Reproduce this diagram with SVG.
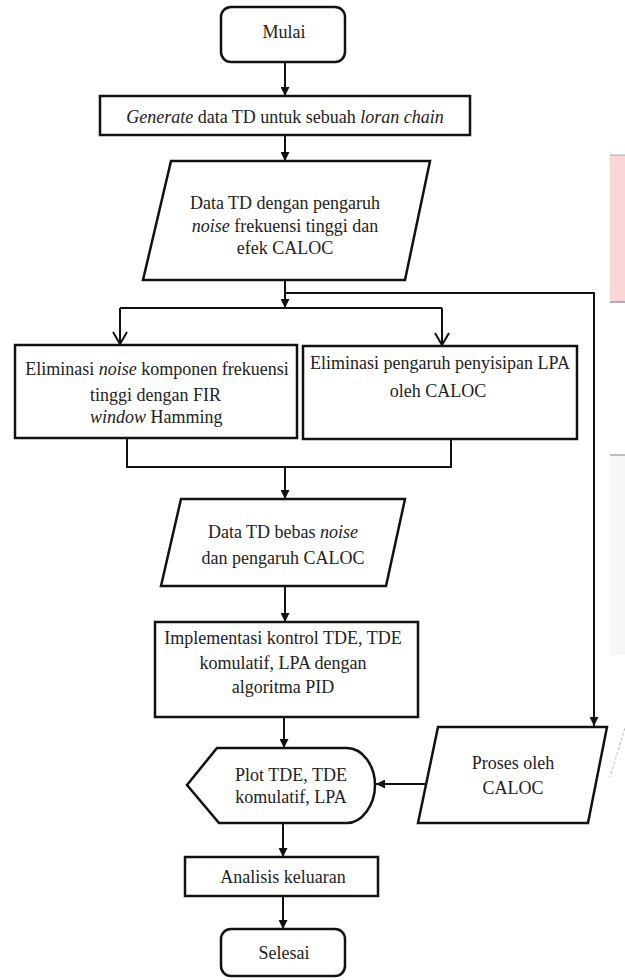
<svg xmlns="http://www.w3.org/2000/svg" width="625" height="980" viewBox="0 0 625 980">
<defs>
<style>
.n{fill:#fff;stroke:#111;stroke-width:2.5}
.t{font-family:"Liberation Serif","Times New Roman",serif;font-size:18px;fill:#222;text-anchor:middle}
.s{text-anchor:start}
.i{font-style:italic}
.c{fill:none;stroke:#111;stroke-width:2}
.a{marker-end:url(#ah)}
.o{marker-end:url(#ao)}
</style>
<marker id="ah" viewBox="0 0 10 10" refX="10" refY="5" markerWidth="9" markerHeight="9" markerUnits="userSpaceOnUse" orient="auto">
<path d="M0,0 L10,5 L0,10 Z" fill="#111"/>
</marker>
<marker id="ao" viewBox="0 0 14 16" refX="13" refY="8" markerWidth="14" markerHeight="16" markerUnits="userSpaceOnUse" orient="auto">
<path d="M1,1 L13,8 L1,15" fill="none" stroke="#111" stroke-width="2"/>
</marker>
</defs>
<rect width="625" height="980" fill="#fff"/>
<g id="artifacts">
<rect x="610" y="155" width="15" height="147" fill="#fad6d8"/>
<line x1="610" y1="155" x2="625" y2="155" stroke="#aaa" stroke-width="1"/>
<line x1="610" y1="302" x2="625" y2="302" stroke="#999" stroke-width="1.5"/>
<rect x="610" y="455" width="15" height="200" fill="#f7f7f7"/>
<line x1="610" y1="455" x2="625" y2="455" stroke="#aaa" stroke-width="1.5"/>
<line x1="625" y1="728" x2="610" y2="777" stroke="#bbb" stroke-width="1" stroke-dasharray="3,2"/>
</g>
<g id="connectors">
<line class="c a" x1="285" y1="62" x2="285" y2="96"/>
<line class="c a" x1="285" y1="135" x2="285" y2="161"/>
<line class="c a" x1="285" y1="280" x2="285" y2="308"/>
<polyline class="c" points="120,308 442,308"/>
<line class="c o" x1="120" y1="308" x2="120" y2="344"/>
<line class="c o" x1="442" y1="308" x2="442" y2="345"/>
<polyline class="c a" points="285,293 594,293 594,726"/>
<polyline class="c" points="127,438 127,467 451,467 451,439"/>
<line class="c a" x1="285" y1="467" x2="285" y2="499"/>
<line class="c a" x1="285" y1="586" x2="285" y2="622"/>
<line class="c a" x1="284" y1="717" x2="284" y2="748"/>
<line class="c a" x1="430" y1="784" x2="376" y2="784"/>
<line class="c a" x1="283" y1="823" x2="283" y2="857"/>
<line class="c a" x1="283" y1="896" x2="283" y2="929"/>
</g>
<g id="mulai">
<rect class="n" x="221" y="7" width="124" height="55" rx="10"/>
<text class="t" x="284" y="38">Mulai</text>
</g>
<g id="generate">
<rect class="n" x="100" y="96" width="370" height="39"/>
<text class="t" x="285" y="123"><tspan class="i">Generate</tspan> data TD untuk sebuah <tspan class="i">loran chain</tspan></text>
</g>
<g id="data-td-noise">
<polygon class="n" points="171,161 430,161 405,280 143,280"/>
<text class="t" x="285" y="209">Data TD dengan pengaruh</text>
<text class="t" x="285" y="232"><tspan class="i">noise</tspan> frekuensi tinggi dan</text>
<text class="t" x="285" y="254">efek CALOC</text>
</g>
<g id="eliminasi-noise">
<rect class="n" x="15" y="345" width="282" height="93"/>
<text class="t" x="157" y="375">Eliminasi <tspan class="i">noise</tspan> komponen frekuensi</text>
<text class="t s" x="90" y="401">tinggi dengan FIR</text>
<text class="t s" x="90" y="423"><tspan class="i">window</tspan> Hamming</text>
</g>
<g id="eliminasi-lpa">
<rect class="n" x="303" y="346" width="274" height="93"/>
<text class="t" x="440" y="369">Eliminasi pengaruh penyisipan LPA</text>
<text class="t" x="438" y="397">oleh CALOC</text>
</g>
<g id="data-td-bebas">
<polygon class="n" points="181,499 405,499 386,586 161,586"/>
<text class="t" x="283" y="538">Data TD bebas <tspan class="i">noise</tspan></text>
<text class="t" x="283" y="564">dan pengaruh CALOC</text>
</g>
<g id="implementasi">
<rect class="n" x="155" y="622" width="263" height="95"/>
<text class="t" x="283" y="644">Implementasi kontrol TDE, TDE</text>
<text class="t" x="283" y="669">komulatif, LPA dengan</text>
<text class="t" x="283" y="693">algoritma PID</text>
</g>
<g id="plot">
<path class="n" d="M187,785 L217,748 L347,748 C362,748 375,765 375,785 C375,805 362,823 347,823 L219,823 Z"/>
<text class="t" x="291" y="781">Plot TDE, TDE</text>
<text class="t" x="291" y="803">komulatif, LPA</text>
</g>
<g id="proses-caloc">
<polygon class="n" points="438,727 607,727 588,823 418,823"/>
<text class="t" x="513" y="769">Proses oleh</text>
<text class="t" x="513" y="794">CALOC</text>
</g>
<g id="analisis">
<rect class="n" x="185" y="857" width="193" height="39"/>
<text class="t" x="283" y="883">Analisis keluaran</text>
</g>
<g id="selesai">
<rect class="n" x="221" y="929" width="124" height="47" rx="10"/>
<text class="t" x="284" y="959">Selesai</text>
</g>
</svg>
